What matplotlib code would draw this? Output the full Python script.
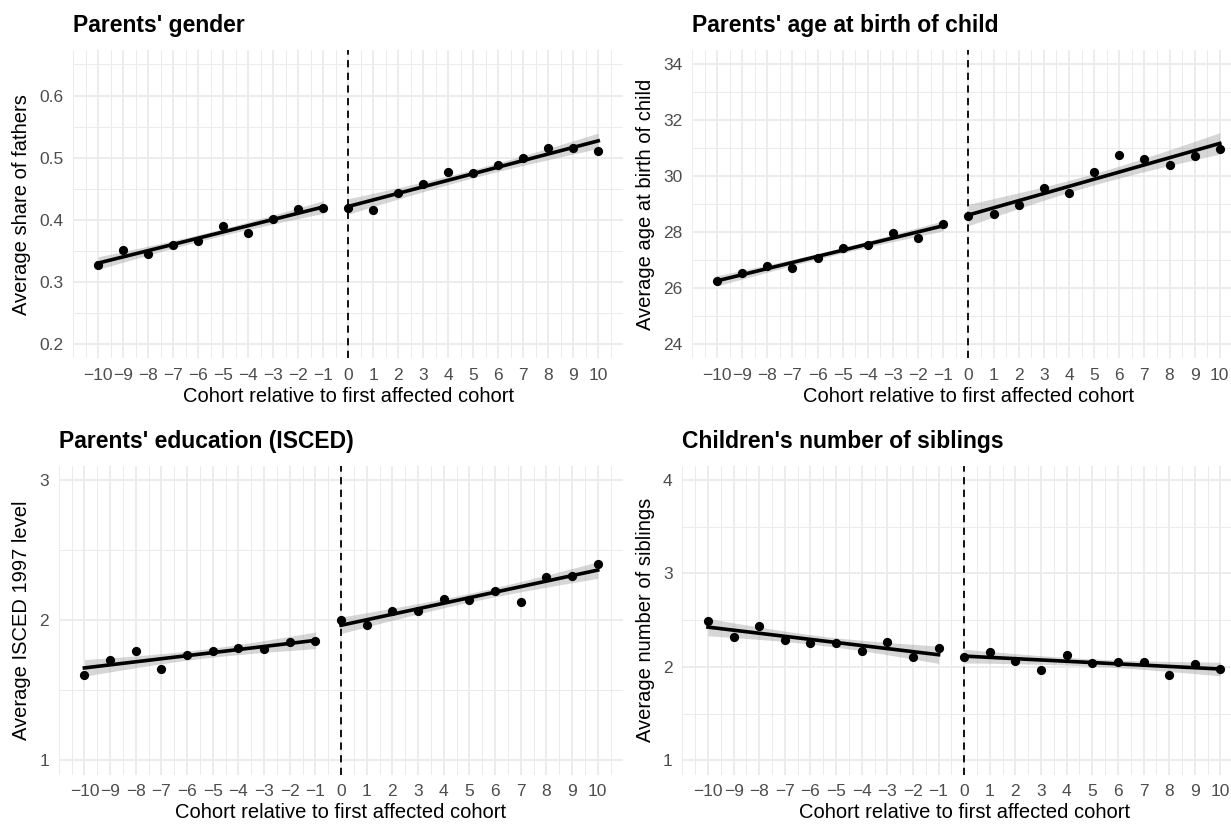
import numpy as np
import matplotlib.pyplot as plt

plt.rcParams['font.family'] = ['Liberation Sans', 'DejaVu Sans']

# Cohortes relatives à la première cohorte affectée
cohort = np.arange(-10, 11)

# Valeurs moyennes
share_fathers = [0.327, 0.352, 0.346, 0.360, 0.366, 0.390, 0.379, 0.402, 0.417, 0.420,
                 0.420, 0.416, 0.444, 0.458, 0.478, 0.475, 0.488, 0.499, 0.515, 0.516, 0.511]
age_at_birth = [26.25, 26.56, 26.80, 26.73, 27.10, 27.46, 27.57, 27.98, 27.81, 28.31,
                28.59, 28.66, 28.97, 29.59, 29.40, 30.16, 30.78, 30.63, 30.42, 30.74, 30.99]
isced_level = [1.611, 1.715, 1.781, 1.653, 1.750, 1.781, 1.802, 1.797, 1.844, 1.849,
               2.000, 1.967, 2.066, 2.068, 2.151, 2.146, 2.208, 2.132, 2.311, 2.318, 2.401]
n_siblings = [2.497, 2.319, 2.440, 2.284, 2.256, 2.256, 2.167, 2.266, 2.103, 2.199,
              2.110, 2.163, 2.067, 1.972, 2.124, 2.046, 2.053, 2.053, 1.918, 2.032, 1.982]

titles = ["Parents' gender", "Parents' age at birth of child",
          "Parents' education (ISCED)", "Children's number of siblings"]
ylabels = ["Average share of fathers", "Average age at birth of child",
           "Average ISCED 1997 level", "Average number of siblings"]
ylimits = [(0.2, 0.65), (24, 34), (1, 3), (1, 4)]
ybreaks = [[0.2, 0.3, 0.4, 0.5, 0.6], [24, 26, 28, 30, 32, 34], [1, 2, 3], [1, 2, 3, 4]]
ytick_labels = [["0.2", "0.3", "0.4", "0.5", "0.6"], ["24", "26", "28", "30", "32", "34"],
                ["1", "2", "3"], ["1", "2", "3", "4"]]

# Quantiles t à 97.5 % selon les degrés de liberté
T_QUANTILE = {8: 2.306, 9: 2.262}


def fit_band(x, y):
    """Régression linéaire avec intervalle de confiance à 95 %."""
    x = np.asarray(x, dtype=float)
    y = np.asarray(y, dtype=float)
    n = len(x)
    slope, intercept = np.polyfit(x, y, 1)
    resid = y - (intercept + slope * x)
    s = np.sqrt(np.sum(resid ** 2) / (n - 2))
    xs = np.linspace(x.min(), x.max(), 100)
    se = s * np.sqrt(1 / n + (xs - x.mean()) ** 2 / np.sum((x - x.mean()) ** 2))
    fit = intercept + slope * xs
    t = T_QUANTILE[n - 2]
    return xs, fit, fit - t * se, fit + t * se


def draw_panel(ax, values, title, ylabel, ylim, breaks, blabels):
    values = np.asarray(values)
    pre = cohort < 0
    for mask in (pre, ~pre):
        xs, fit, lo, hi = fit_band(cohort[mask], values[mask])
        ax.fill_between(xs, lo, hi, color='#999999', alpha=0.4, linewidth=0, zorder=2)
        ax.plot(xs, fit, color='black', linewidth=2.6, zorder=4)
    ax.scatter(cohort, values, s=44, color='black', linewidths=0, zorder=3)
    ax.axvline(0, color='black', linestyle=(0, (4, 3)), linewidth=1.3, zorder=5)

    # Échelles et grilles façon theme_minimal
    lo_lim, hi_lim = ylim
    pad = 0.05 * (hi_lim - lo_lim)
    ax.set_ylim(lo_lim - pad, hi_lim + pad)
    ax.set_xlim(-11, 11)
    ax.set_xticks(cohort)
    ax.set_xticklabels([str(c).replace('-', '\u2212') for c in cohort])
    ax.set_xticks(np.arange(-11, 11.5, 0.5), minor=True)
    step = breaks[1] - breaks[0]
    minor_y = [b + step / 2 for b in breaks if b + step / 2 <= hi_lim + pad]
    ax.set_yticks(breaks)
    ax.set_yticklabels(blabels)
    ax.set_yticks(minor_y, minor=True)

    ax.grid(which='major', color='#EBEBEB', linewidth=1.3)
    ax.grid(which='minor', color='#EBEBEB', linewidth=0.7)
    ax.set_axisbelow(True)
    for sp in ax.spines.values():
        sp.set_visible(False)
    ax.tick_params(which='both', length=0)
    ax.tick_params(axis='x', pad=7, labelsize=12.5, labelcolor='#4D4D4D')
    ax.tick_params(axis='y', pad=7, labelsize=12.5, labelcolor='#4D4D4D')

    ax.set_title(title, loc='left', fontsize=16.5, fontweight='bold', pad=13)
    ax.set_xlabel("Cohort relative to first affected cohort", fontsize=14.5, labelpad=3)
    ax.set_ylabel(ylabel, fontsize=14.5, labelpad=6)


fig = plt.figure(figsize=(12.31, 8.25), dpi=100)
positions = [
    [0.0595, 0.5655, 0.4468, 0.3733],
    [0.5621, 0.5655, 0.4492, 0.3733],
    [0.0477, 0.0612, 0.4587, 0.3740],
    [0.5543, 0.0612, 0.4579, 0.3740],
]
series = [share_fathers, age_at_birth, isced_level, n_siblings]

for i in range(4):
    ax = fig.add_axes(positions[i])
    draw_panel(ax, series[i], titles[i], ylabels[i], ylimits[i], ybreaks[i], ytick_labels[i])

fig.savefig('out.png', dpi=100)
